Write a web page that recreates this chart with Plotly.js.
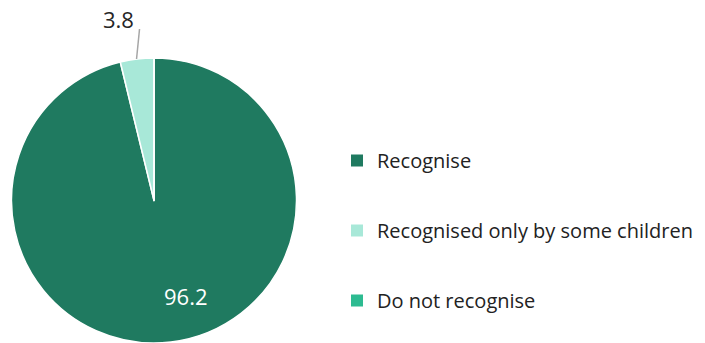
<!DOCTYPE html>
<html><head><meta charset="utf-8">
<script src="https://cdn.plot.ly/plotly-3.0.1.min.js"></script>
<style>html,body{margin:0;padding:0;background:#fff;}#chart{width:705px;height:343px;}</style>
</head><body><div id="chart"></div>
<script>
const categories = ["Recognise", "Recognised only by some children", "Do not recognise"];
const values = [96.2, 3.8, 0];
const colors = ["#1F7A60", "#A8E8D8", "#2DBB91"];

const W = 705, H = 343;
const FONT = "Open Sans, DejaVu Sans, sans-serif";

const pieDomX = [11 / W, 297 / W];
const pieDomY = [0, 1 - 58 / H];

const traces = [{
  type: "pie",
  labels: categories,
  values: values,
  sort: false,
  direction: "clockwise",
  rotation: 0,
  marker: { colors: colors, line: { color: "#ffffff", width: 1.5 } },
  textinfo: "none",
  showlegend: false,
  domain: { x: pieDomX, y: pieDomY },
  hoverinfo: "label+value"
}];

categories.forEach((c, i) => {
  traces.push({
    type: "scatter", mode: "markers", x: [null], y: [null],
    name: c, legendgroup: "g" + i,
    marker: { symbol: "square", size: 12, color: colors[i] },
    hoverinfo: "skip"
  });
});

// geometry of the pie in pixels, derived from its domain
const domHpx = (pieDomY[1] - pieDomY[0]) * H;
const domWpx = (pieDomX[1] - pieDomX[0]) * W;
const r = Math.min(domHpx, domWpx) / 2;
const cxPx = (pieDomX[0] + pieDomX[1]) / 2 * W;
const cyPx = H - (pieDomY[0] + pieDomY[1]) / 2 * H;
const toPaper = (px, py) => [px / W, 1 - py / H];

// leader label for the small slice, located from the data
const total = values.reduce((a, b) => a + b, 0);
const midFrac = values[0] / total + values[1] / total / 2;
const ang = midFrac * 2 * Math.PI; // clockwise from top
const ex = cxPx + r * Math.sin(ang), ey = cyPx - r * Math.cos(ang);
const p0 = toPaper(ex - 0.5, ey), p1 = toPaper(ex + 2.5, ey - 30);
const pt = toPaper(ex - 19, ey - 40);

// label inside the big slice
const pBig = toPaper(cxPx + 31.5, cyPx + 95);

const layout = {
  width: W, height: H,
  margin: { l: 0, r: 0, t: 0, b: 0 },
  paper_bgcolor: "#ffffff", plot_bgcolor: "rgba(0,0,0,0)",
  xaxis: { visible: false, fixedrange: true },
  yaxis: { visible: false, fixedrange: true },
  showlegend: true,
  legend: {
    x: 337 / W, xanchor: "left", y: 1 - 141 / H, yanchor: "top",
    font: { family: FONT, size: 20, color: "#222222" },
    tracegroupgap: 41, bgcolor: "rgba(0,0,0,0)", borderwidth: 0
  },
  shapes: [{
    type: "line", xref: "paper", yref: "paper",
    x0: p0[0], y0: p0[1], x1: p1[0], y1: p1[1],
    line: { color: "#A6A6A6", width: 1.5 }
  }],
  annotations: [{
    xref: "paper", yref: "paper", x: pt[0], y: pt[1],
    xanchor: "center", yanchor: "middle",
    text: String(values[1]), showarrow: false,
    font: { family: FONT, size: 22, color: "#262626" }
  }, {
    xref: "paper", yref: "paper", x: pBig[0], y: pBig[1],
    xanchor: "center", yanchor: "middle",
    text: String(values[0]), showarrow: false,
    font: { family: FONT, size: 22, color: "#ffffff" }
  }]
};

Plotly.newPlot("chart", traces, layout, { displayModeBar: false, staticPlot: true });
</script></body></html>
